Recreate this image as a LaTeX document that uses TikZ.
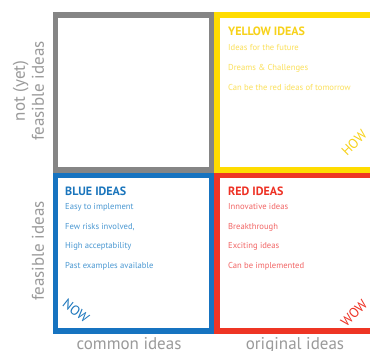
\documentclass[tikz,border=0pt]{standalone}
\usepackage{fontspec}
\setmainfont{PT Sans}
\definecolor{gbox}{HTML}{858585}
\definecolor{ybox}{HTML}{FFDC00}
\definecolor{bbox}{HTML}{1673C0}
\definecolor{rbox}{HTML}{EE3524}
\definecolor{ytxt}{HTML}{F7D21A}
\definecolor{ylite}{HTML}{FBE05A}
\definecolor{btxt}{HTML}{1A75BC}
\definecolor{blite}{HTML}{4A98D2}
\definecolor{rtxt}{HTML}{EE3124}
\definecolor{rlite}{HTML}{F26565}
\definecolor{axis}{HTML}{9A9A9A}
\tikzset{
  quad/.style={line width=5.5pt},
  head/.style={anchor=base west, inner sep=0pt, font=\fontsize{12}{14}\selectfont\bfseries},
  item/.style={anchor=base west, inner sep=0pt, font=\fontsize{8.6}{10}\selectfont},
  axislab/.style={text=axis, inner sep=0pt, font=\fontsize{17}{19}\selectfont, align=center},
  tag/.style={inner sep=0pt, font=\fontsize{13.5}{15}\selectfont},
}
\begin{document}
\begin{tikzpicture}[x=1pt,y=-1pt]
\useasboundingbox (0,0) rectangle (370,351);
\clip (0,0) rectangle (370,351);
\fill[white] (0,0) rectangle (370,351);
% boxes
\draw[quad, gbox] (55.3,15) rectangle (211.5,170);
\draw[quad, ybox] (217,15) rectangle (400,170);
\draw[quad, bbox] (55.3,175.5) rectangle (211.5,331);
\draw[quad, rbox] (217,175.5) rectangle (400,331);
% yellow
\node[head, text=ytxt] (yh) at (228,35) {YELLOW IDEAS};
\node[item, text=ylite] (y1) at (228,50) {Ideas for the future};
\node[item, text=ylite] (y2) at (228,70) {Dreams \& Challenges};
\node[item, text=ylite] (y3) at (228,90) {Can be the red ideas of tomorrow};
% blue
\node[head, text=btxt] (bh) at (65,195) {BLUE IDEAS};
\node[item, text=blite] (b1) at (65,209) {Easy to implement};
\node[item, text=blite] (b2) at (65,229) {Few risks involved,};
\node[item, text=blite] (b3) at (65,248.5) {High acceptability};
\node[item, text=blite] (b4) at (65,268) {Past examples available};
% red
\node[head, text=rtxt] (rh) at (228,195) {RED IDEAS};
\node[item, text=rlite] (r1) at (228,209) {Innovative ideas};
\node[item, text=rlite] (r2) at (228,229) {Breakthrough};
\node[item, text=rlite] (r3) at (228,248.5) {Exciting ideas};
\node[item, text=rlite] (r4) at (228,268) {Can be implemented};
% tags
\node[tag, text=btxt, rotate=-38] (now) at (76,311) {NOW};
\node[tag, text=rtxt, rotate=45] (wow) at (354,313) {WOW};
\node[tag, text=ytxt, rotate=45] (how) at (354,143) {HOW};
% axes
\node[axislab, rotate=90] (nf) at (28.5,91) {not (yet)\\feasible ideas};
\node[axislab, rotate=90] (fi) at (38,251) {feasible ideas};
\node[axislab, anchor=base] (ci) at (129,349.5) {common ideas};
\node[axislab, anchor=base] (oi) at (295,349.5) {original ideas};
\end{tikzpicture}
\end{document}
